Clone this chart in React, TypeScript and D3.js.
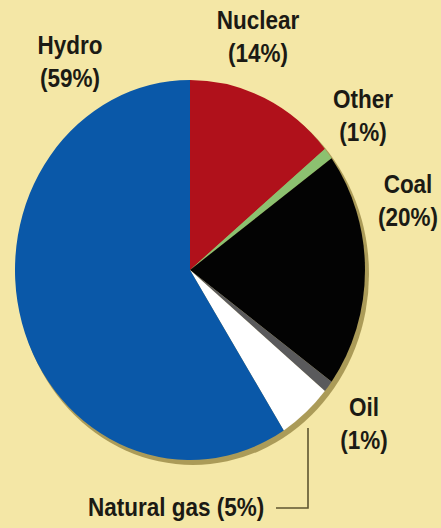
import React from "react";
import * as d3 from "d3";

const categories = ["Nuclear", "Other", "Coal", "Oil", "Natural gas", "Hydro"];
const shares = [14, 1, 20, 1, 5, 59];
const sliceColors = ["#b0111b", "#8cc170", "#030303", "#5a5a5c", "#ffffff", "#0a58a8"];

const W = 441;
const H = 528;

export default function App() {
  const cx = 190;
  const cy = 270;
  const rx = 175;
  const ry = 190;
  const pie = d3.pie<number>().sort(null).value((d) => d)(shares);
  const arc = d3.arc<d3.PieArcDatum<number>>().innerRadius(0).outerRadius(rx);

  const fontStyle: React.CSSProperties = {
    fontFamily: "'Liberation Sans', Arial, Helvetica, sans-serif",
    fontWeight: 700,
    fontSize: 25,
    fill: "#1b1a14",
  };
  const sx = 0.9;

  const labels: { text: string[]; x: number; y: number }[] = [
    { text: [categories[0], `(${shares[0]}%)`], x: 258, y: 29 },
    { text: [categories[1], `(${shares[1]}%)`], x: 363, y: 108 },
    { text: [categories[2], `(${shares[2]}%)`], x: 408, y: 193 },
    { text: [categories[3], `(${shares[3]}%)`], x: 364, y: 416 },
    { text: [categories[5], `(${shares[5]}%)`], x: 70, y: 54 },
  ];

  return (
    <svg
      width={W}
      height={H}
      style={{ position: "fixed", left: 0, top: 0, background: "#f4e7a6" }}
    >
      <rect x={0} y={0} width={W} height={H} fill="#f4e7a6" />
      <ellipse cx={cx + 3} cy={cy + 4} rx={rx + 1} ry={ry + 1} fill="#ab9b58" />
      <g transform={`translate(${cx},${cy}) scale(1,${ry / rx})`}>
        {pie.map((d, i) => (
          <path key={categories[i]} d={arc(d) || ""} fill={sliceColors[i]} />
        ))}
      </g>
      {labels.map((l) => (
        <g key={l.text[0]} transform={`translate(${l.x},${l.y}) scale(${sx},1)`}>
          <text textAnchor="middle" style={fontStyle}>
            <tspan x={0} y={0}>{l.text[0]}</tspan>
            <tspan x={0} y={33}>{l.text[1]}</tspan>
          </text>
        </g>
      ))}
      <g transform={`translate(88,516) scale(${sx},1)`}>
        <text textAnchor="start" style={fontStyle}>
          {`${categories[4]} (${shares[4]}%)`}
        </text>
      </g>
      <polyline
        points="276,508 308,508 308,428"
        fill="none"
        stroke="#5e5530"
        strokeWidth={1.6}
      />
    </svg>
  );
}
